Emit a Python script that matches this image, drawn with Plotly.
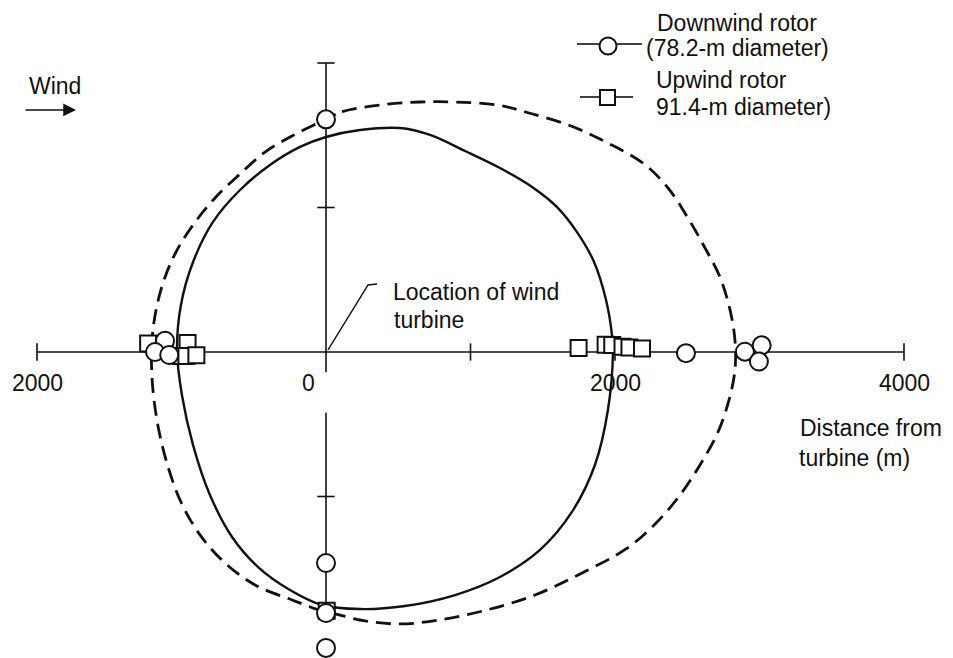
import plotly.graph_objects as go

# ---------------------------------------------------------------------------
# Data (metres from the turbine; +x downwind, +y crosswind)
# ---------------------------------------------------------------------------
# Downwind rotor (78.2-m diameter) observation points
down_x = [0, 0, 0, 0, -1114, -1183, -1085, 2491, 2899, 3015, 2996]
down_y = [1610, -1460, -1806, -2048, 78, 0, -21, -8, 2, 46, -66]

# Upwind rotor (91.4-m diameter) observation points
up_x = [5, -1231, -958, -1008, -966, -897, 1748, 1935, 1981, 2052, 2100, 2187]
up_y = [-1790, 58, 62, -28, -28, -23, 27, 50, 48, 37, 31, 24]

# Audibility contour, upwind rotor (solid)
solid_x = [0, 235, 512, 720, 962, 1204, 1426, 1599, 1737, 1855, 1938, 1979,
           1986, 1951, 1861, 1702, 1481, 1204, 893, 547, 235, -28, -249, -470,
           -650, -803, -920, -997, -1031, -1004, -920, -782, -595, -388, -180, 0]
solid_y = [1488, 1536, 1550, 1502, 1391, 1273, 1142, 1003, 830, 623, 360, 118,
           0, -401, -782, -1107, -1370, -1557, -1682, -1758, -1779, -1751,
           -1647, -1488, -1280, -990, -644, -298, 14, 325, 623, 900, 1121, 1294,
           1419, 1488]

# Audibility contour, downwind rotor (dashed)
dash_x = [0, 111, 374, 650, 900, 1190, 1405, 1696, 1951, 2201, 2367, 2505,
          2623, 2726, 2796, 2830, 2830, 2789, 2713, 2588, 2450, 2284, 2076,
          1758, 1446, 1114, 789, 512, 270, 62, -28, -235, -491, -699, -872,
          -1010, -1107, -1170, -1204, -1204, -1176, -1121, -1038, -920, -768,
          -595, -422, -235, -42, 0]
dash_y = [1612, 1663, 1709, 1730, 1730, 1709, 1654, 1564, 1446, 1301, 1135, 927,
          720, 519, 291, 83, -125, -332, -554, -782, -990, -1184, -1363, -1536,
          -1682, -1785, -1854, -1882, -1861, -1813, -1792, -1716, -1612, -1460,
          -1266, -1024, -747, -471, -180, 83, 291, 498, 692, 879, 1066, 1232,
          1384, 1495, 1592, 1612]

# Axes
x_axis_span = [-2000, 4000]
x_minor_ticks = [-1000, 1000, 2000, 3000]
x_label_vals = [-2000, 0, 2000, 4000]
x_label_text = ["2000", "0", "2000", "4000"]
y_axis_span = [2000, -1800]
y_axis_gap = [-140, -420]
y_minor_ticks = [1000, -1000]

# Leader line to the turbine location
leader_x = [14, 291, 353]
leader_y = [14, 464, 471]

# ---------------------------------------------------------------------------
W, H = 953, 658
X0_PX, Y0_PX, SCALE = 326, 352, 0.1445      # pixel of origin, px per metre
FONT = "Liberation Sans, Arial, Helvetica, sans-serif"
FS = 23
INK = "#111111"

x_range = [-X0_PX / SCALE, (W - X0_PX) / SCALE]
y_range = [-(H - Y0_PX) / SCALE, Y0_PX / SCALE]

TICK = 60  # half length of tick marks, metres

fig = go.Figure()

# contours
fig.add_trace(go.Scatter(x=dash_x, y=dash_y, mode="lines",
                         line=dict(color=INK, width=2.8, dash="15px,8px",
                                   shape="spline", smoothing=1.0),
                         hoverinfo="skip"))
fig.add_trace(go.Scatter(x=solid_x, y=solid_y, mode="lines",
                         line=dict(color=INK, width=2.4, shape="spline",
                                   smoothing=1.0),
                         hoverinfo="skip"))

# horizontal axis with end ticks and minor ticks
hx, hy = [x_axis_span[0], x_axis_span[1], None], [0, 0, None]
for v in [x_axis_span[0], x_axis_span[1]] + x_minor_ticks:
    hx += [v, v, None]
    hy += [-TICK, TICK, None]
fig.add_trace(go.Scatter(x=hx, y=hy, mode="lines",
                         line=dict(color=INK, width=1.6), hoverinfo="skip"))

# vertical axis (broken just below the origin) with ticks
vx = [0, 0, None, 0, 0, None]
vy = [y_axis_span[0], y_axis_gap[0], None, y_axis_gap[1], y_axis_span[1], None]
for v in [y_axis_span[0]] + y_minor_ticks:
    vx += [-TICK, TICK, None]
    vy += [v, v, None]
fig.add_trace(go.Scatter(x=vx, y=vy, mode="lines",
                         line=dict(color=INK, width=1.6), hoverinfo="skip"))

# leader line
fig.add_trace(go.Scatter(x=leader_x, y=leader_y, mode="lines",
                         line=dict(color=INK, width=1.4), hoverinfo="skip"))

# observation markers
fig.add_trace(go.Scatter(x=up_x, y=up_y, mode="markers", name="Upwind rotor",
                         marker=dict(symbol="square", size=16, color="white",
                                     line=dict(color=INK, width=2))))
fig.add_trace(go.Scatter(x=down_x, y=down_y, mode="markers", name="Downwind rotor",
                         marker=dict(symbol="circle", size=18, color="white",
                                     line=dict(color=INK, width=2))))


def px(x, y):
    """pixel position -> paper coordinates"""
    return x / W, 1 - y / H


annotations = []


def text(s, x, y, anchor="left", size=FS):
    xp, yp = px(x, y)
    annotations.append(dict(text=s, x=xp, y=yp, xref="paper", yref="paper",
                            xanchor=anchor, yanchor="middle", showarrow=False,
                            font=dict(family=FONT, size=size, color=INK)))


# tick labels along the horizontal axis
for v, s in zip(x_label_vals, x_label_text):
    shift = -18 if v == 0 else 0
    annotations.append(dict(text=s, x=v, y=0, xref="x", yref="y",
                            xanchor="center", yanchor="middle", showarrow=False,
                            xshift=shift, yshift=-31,
                            font=dict(family=FONT, size=FS, color=INK)))

text("Distance from", 798, 428)
text("turbine (m)", 797, 458)
text("Location of wind", 391, 292)
text("turbine", 392, 320)
text("Wind", 27, 86)
text("Downwind rotor", 655, 23)
text("(78.2-m diameter)", 644, 48)
text("Upwind rotor", 654, 80)
text("91.4-m diameter)", 654, 107)

# wind arrow
annotations.append(dict(x=-1730, y=1675, ax=-2090, ay=1675, xref="x", yref="y",
                        axref="x", ayref="y", text="", showarrow=True,
                        arrowhead=2, arrowsize=1.6, arrowwidth=1.6,
                        arrowcolor=INK))

# key glyphs
shapes = []


def seg(x0, y0, x1, y1, w=1.6):
    a, b = px(x0, y0)
    c, d = px(x1, y1)
    shapes.append(dict(type="line", xref="paper", yref="paper",
                       x0=a, y0=b, x1=c, y1=d, line=dict(color=INK, width=w)))


def box(kind, cx, cy, r):
    a, b = px(cx - r, cy + r)
    c, d = px(cx + r, cy - r)
    shapes.append(dict(type=kind, xref="paper", yref="paper",
                       x0=a, y0=b, x1=c, y1=d, fillcolor="white",
                       line=dict(color=INK, width=2)))


seg(577, 44, 599, 44)
seg(617, 44, 642, 44)
box("circle", 608, 46, 8.5)
seg(580, 97, 600, 97)
seg(615, 97, 633, 97)
box("rect", 607.5, 97.5, 7.5)

fig.update_layout(
    width=W, height=H,
    margin=dict(l=0, r=0, t=0, b=0),
    paper_bgcolor="white", plot_bgcolor="white",
    showlegend=False,
    xaxis=dict(range=x_range, visible=False, fixedrange=True),
    yaxis=dict(range=y_range, visible=False, fixedrange=True),
    annotations=annotations,
    shapes=shapes,
)

fig.write_html("out.html")
